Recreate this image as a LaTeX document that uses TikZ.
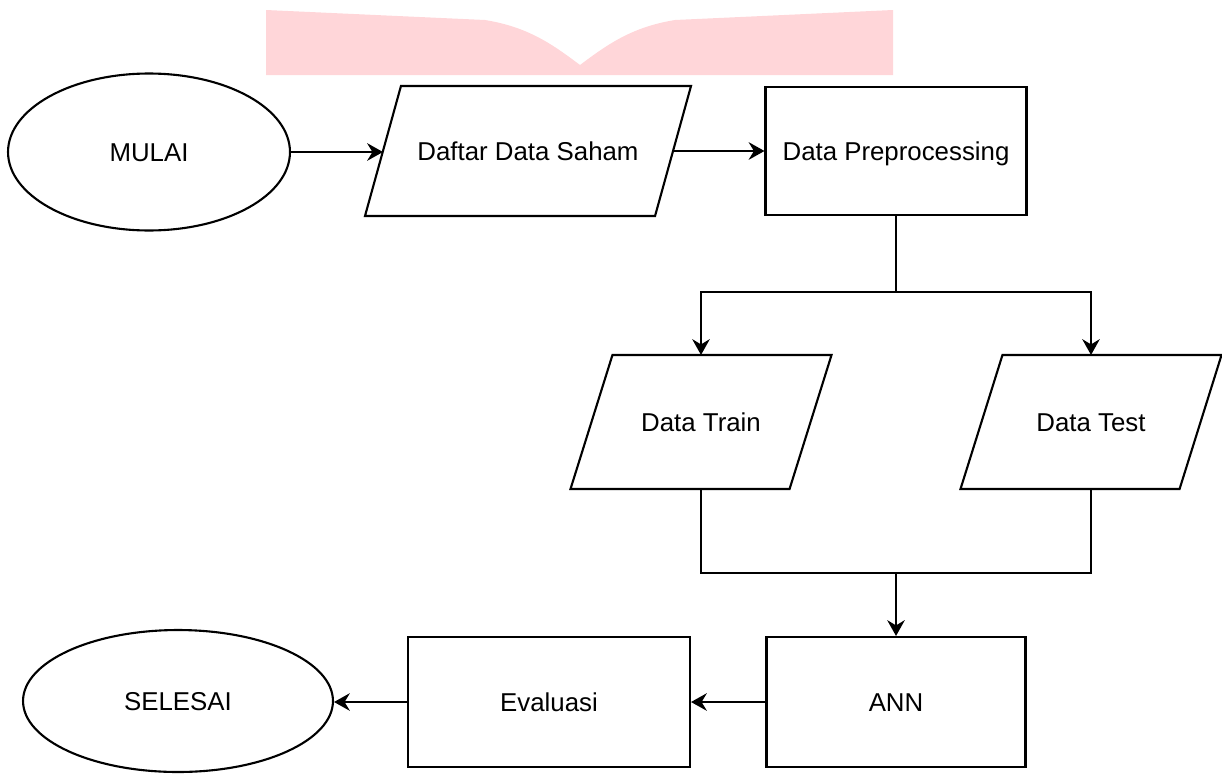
\documentclass[tikz,border=0pt]{standalone}
\usepackage{fontspec}
\setmainfont{Liberation Sans}
\usepackage{tikz}
\usetikzlibrary{shapes.geometric, arrows.meta}

\definecolor{bandpink}{RGB}{255,214,217}

\tikzset{
    label text/.style={text height=10.5pt, text depth=0pt},
    terminal/.style={draw, ellipse, inner sep=0pt, label text},
    io/.style={rectangle, inner sep=0pt, label text,
        append after command={\pgfextra{
            \draw ([xshift=#1]\tikzlastnode.north west) -- ([xshift=#1]\tikzlastnode.north east)
                -- ([xshift=-#1]\tikzlastnode.south east) -- ([xshift=-#1]\tikzlastnode.south west) -- cycle;}}},
    io/.default=0.4cm,
    process/.style={draw, rectangle, inner sep=0pt, label text}
}

\begin{document}
\begin{tikzpicture}[x=0.02cm, y=-0.02cm, line width=1.2pt, line join=miter,
        >={Stealth[length=9pt,width=10pt,inset=3pt]},
        font=\fontsize{14.7}{17}\selectfont]
        \useasboundingbox (0,0) rectangle (1222,774);
        \fill[bandpink] (266,10) -- (485,20) .. controls (528,27) and (552,44) .. (580,65)
            .. controls (608,44) and (632,27) .. (675,20) -- (893,10) -- (893,75) -- (266,75) -- cycle;

        \node[terminal, minimum width=5.64cm, minimum height=3.14cm] (mulai) at (149,152) {MULAI};
        \node[io=0.36cm, minimum width=5.76cm, minimum height=2.56cm] (daftar) at (528,151) {Daftar Data Saham};
        \node[process, minimum width=5.22cm, minimum height=2.56cm] (prep) at (896,151) {Data Preprocessing};
        \node[io=0.42cm, minimum width=4.34cm, minimum height=2.64cm] (data_train) at (701,422) {Data Train};
        \node[io=0.42cm, minimum width=4.34cm, minimum height=2.64cm] (data_test) at (1091,422) {Data Test};
        \node[process, minimum width=5.18cm, minimum height=2.6cm] (ann) at (896,702) {ANN};
        \node[process, minimum width=5.64cm, minimum height=2.6cm] (evaluasi) at (549,702) {Evaluasi};
        \node[terminal, minimum width=6.2cm, minimum height=2.84cm] (selesai) at (178,701) {SELESAI};

        \coordinate (split) at (896,292);
        \coordinate (join) at (896,573);

        \draw[->] (mulai.east) -- (mulai.east -| daftar.west);
        \draw[->] (daftar) -- (prep);
        \draw (prep) -- (split);
        \draw[->] (split) -| (data_train.north);
        \draw[->] (split) -| (data_test.north);
        \draw (data_train.south) |- (join);
        \draw (data_test.south) |- (join);
        \draw[->] (join) -- (ann);
        \draw[->] (ann) -- (evaluasi);
        \draw[->] (evaluasi) -- (evaluasi.west -| selesai.east);
    \end{tikzpicture}
\end{document}
